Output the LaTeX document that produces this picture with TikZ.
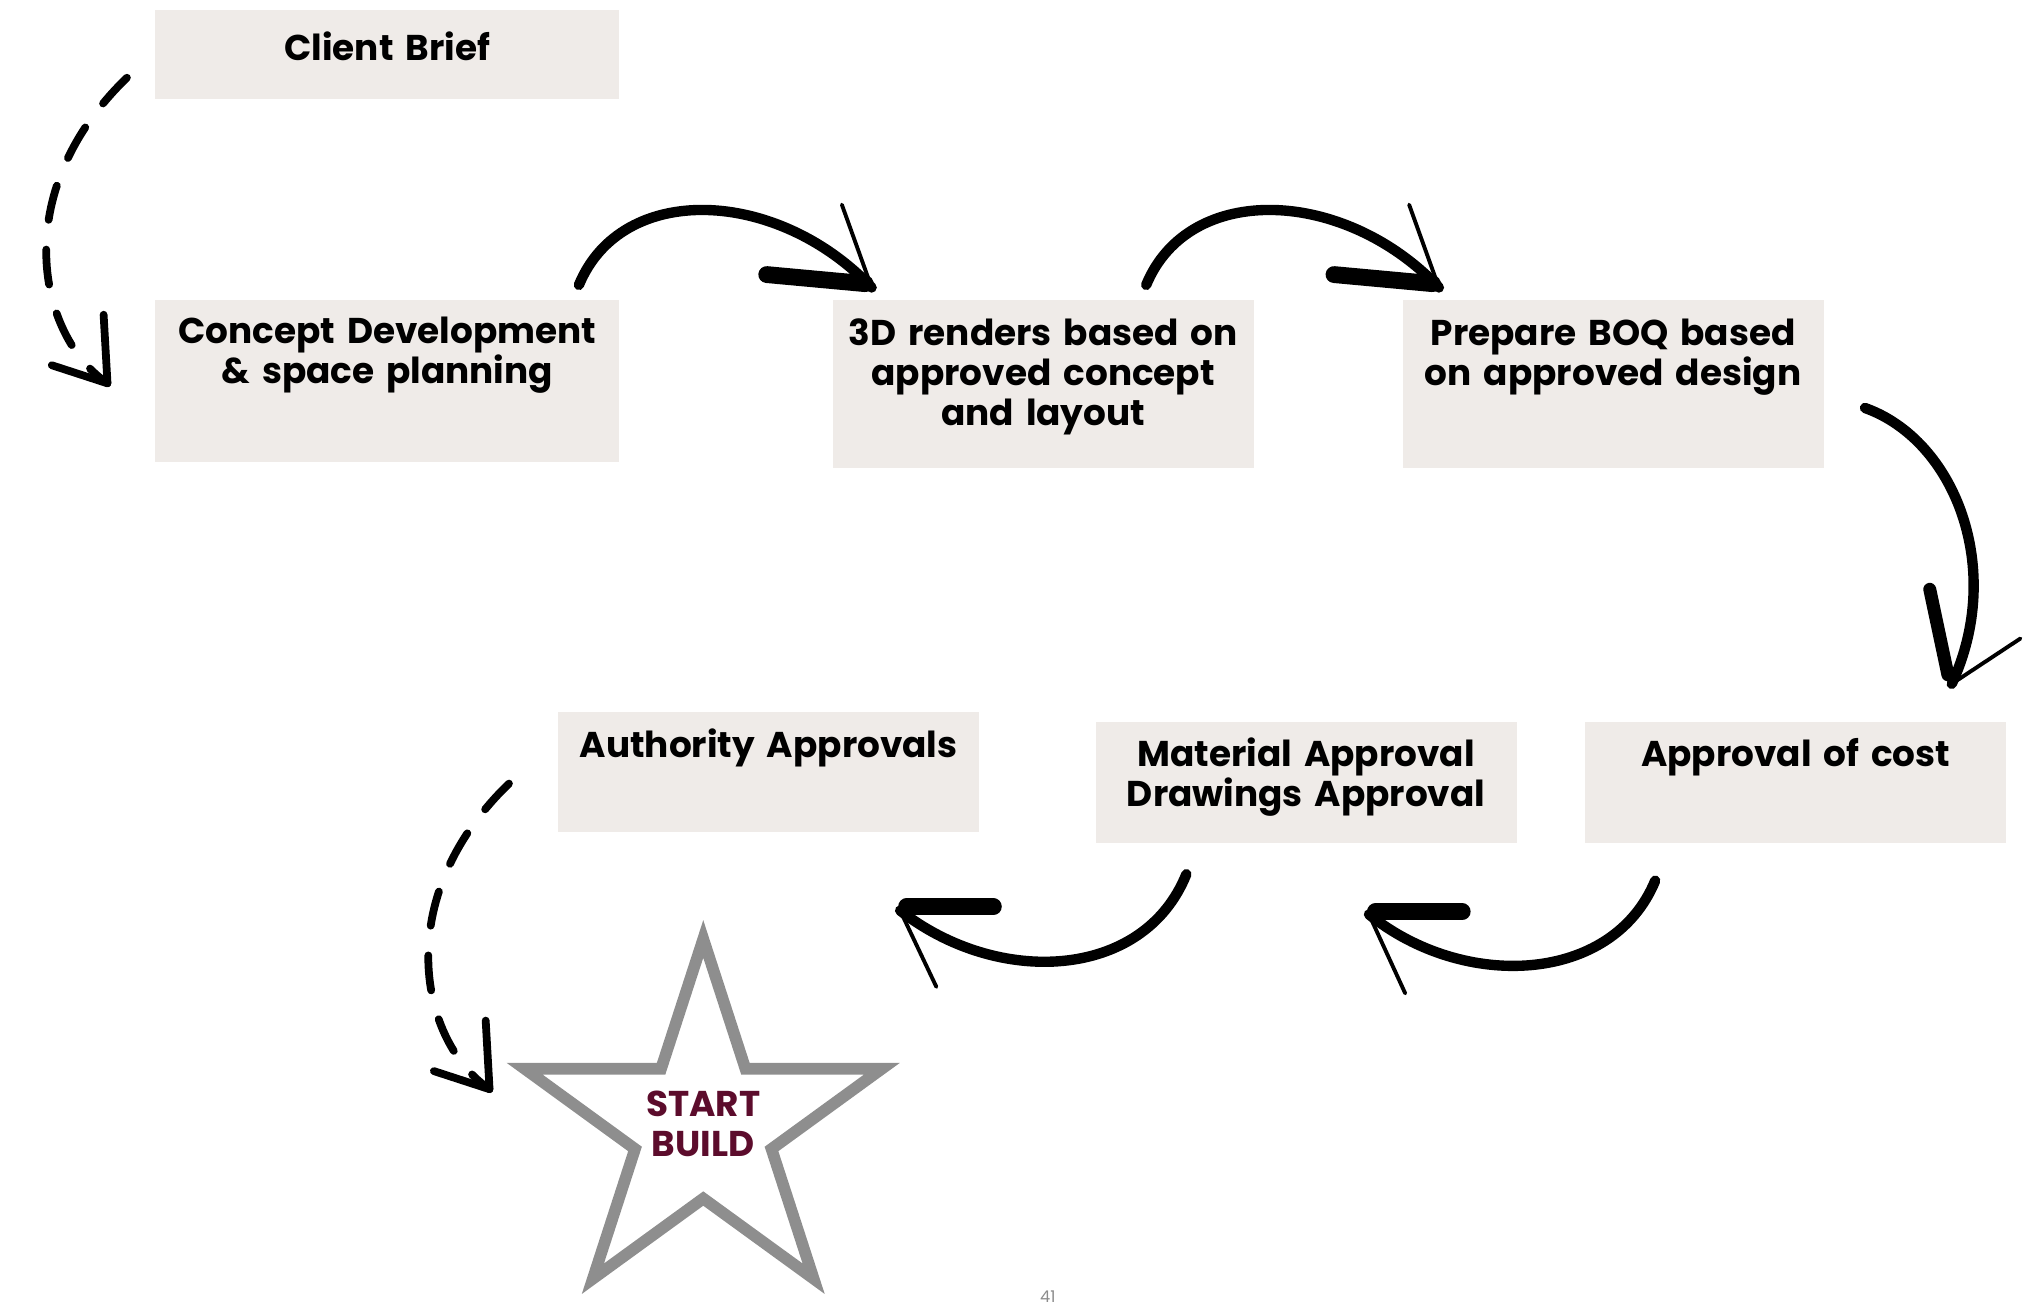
\documentclass[tikz,border=0pt]{standalone}
\usepackage{fontspec}
\setmainfont{Poppins}
\usetikzlibrary{calc}

\definecolor{boxfill}{RGB}{239,235,232}
\definecolor{stargray}{RGB}{142,142,142}
\definecolor{buildred}{RGB}{92,12,44}

% one pixel of the slide
\newdimen\ux
\ux=0.01295cm

\tikzset{
  stage/.style={fill=boxfill, inner sep=0pt, anchor=north, align=center,
    font=\bfseries\fontsize{10.2}{11.4}\selectfont},
  brush/.style={line width=8\ux, line cap=round},
  brushbar/.style={line width=13\ux, line cap=round},
  brushbarb/.style={line width=3\ux, line cap=round},
  dashbrush/.style={line width=6\ux, line cap=round, dash pattern=on 10pt off 8.5pt},
  dashhead/.style={line width=6\ux, line cap=round, line join=round},
  starline/.style={draw=stargray, line width=9\ux, line join=miter},
  buildtext/.style={align=center, text=buildred, font=\bfseries\fontsize{10.2}{11.4}\selectfont},
}

\begin{document}
\begin{tikzpicture}[x=0.01295cm, y=-0.01295cm]
  \useasboundingbox (0,0) rectangle (1562,1006);

  % Stage boxes, placed by the middle of their top edge
  \node[stage, text width=358\ux, text height=39\ux, text depth=30\ux] (brief) at (299,7) {Client Brief};
  \node[stage, text width=358\ux, text height=34\ux, text depth=91\ux] (concept) at (299,231) {Concept Development\\\& space planning};
  \node[stage, text width=325\ux, text height=35\ux, text depth=95\ux] (renders) at (805.5,231) {3D renders based on\\approved concept\\and layout};
  \node[stage, text width=325\ux, text height=35\ux, text depth=95\ux] (boq) at (1245.5,231) {Prepare BOQ based\\on approved design};
  \node[stage, text width=325\ux, text height=34\ux, text depth=59\ux] (cost) at (1386.5,557) {Approval of cost};
  \node[stage, text width=325\ux, text height=34\ux, text depth=59\ux] (material) at (1008.5,557) {Material Approval\\Drawings Approval};
  \node[stage, text width=325\ux, text height=35\ux, text depth=58\ux] (authority) at (593.5,549) {Authority Approvals};

  % Start build star
  \begin{scope}[shift={(543,870)}]
    \draw[starline] (-90:145) foreach \a in {-90,-18,54,126} { -- ({\a+36}:55.4) -- ({\a+72}:145) } -- (234:55.4) -- cycle;
  \end{scope}
  \node[buildtext] (build) at (543,868) {START\\BUILD};

  % Page number
  \node[font=\fontsize{4.6}{5}\selectfont, text=black!45] (page) at (809,1001) {41};

  % Brief to concept (dashed)
  \coordinate (briefout) at (98,60);
  \coordinate (conceptin) at (83,296);
  \draw[dashbrush] (briefout) .. controls (5,150) and (30,260) .. (conceptin);
  \draw[dashhead] (conceptin) ++(-3,-53) -- (conceptin) -- ++(-43,-14);

  % Concept to renders
  \coordinate (conceptout) at (447,220);
  \coordinate (rendersin) at (673,222);
  \draw[brush] (conceptout) .. controls (480,140) and (600,145) .. (rendersin);
  \draw[brushbar] (rendersin) ++(-81,-10) -- ++(76,7);
  \draw[brushbarb] (rendersin) ++(-23,-64) -- (rendersin);

  % Renders to BOQ
  \coordinate (rendersout) at (885,220);
  \coordinate (boqin) at (1111,222);
  \draw[brush] (rendersout) .. controls (918,140) and (1038,145) .. (boqin);
  \draw[brushbar] (boqin) ++(-81,-10) -- ++(76,7);
  \draw[brushbarb] (boqin) ++(-23,-64) -- (boqin);

  % BOQ to cost
  \coordinate (boqout) at (1440,315);
  \coordinate (costin) at (1507,528);
  \draw[brush] (boqout) .. controls (1510,340) and (1548,440) .. (costin);
  \draw[brushbar, line width=10\ux] (costin) ++(-17,-73) -- ++(14,66);
  \draw[brushbarb] (costin) ++(53,-35) -- (costin);

  % Cost to material
  \coordinate (costout) at (1278,680);
  \coordinate (materialin) at (1057,706);
  \draw[brush] (costout) .. controls (1245,760) and (1130,765) .. (materialin);
  \draw[brushbar] (materialin) ++(72,-2) -- ++(-67,0);
  \draw[brushbarb] (materialin) ++(28,61) -- (materialin);

  % Material to authority
  \coordinate (materialout) at (916,675);
  \coordinate (authorityin) at (695,703);
  \draw[brush] (materialout) .. controls (883,757) and (770,762) .. (authorityin);
  \draw[brushbar] (authorityin) ++(72,-3) -- ++(-67,0);
  \draw[brushbarb] (authorityin) ++(28,59) -- (authorityin);

  % Authority to build (dashed)
  \coordinate (authorityout) at (393,605);
  \coordinate (buildin) at (378,841);
  \draw[dashbrush] (authorityout) .. controls (300,695) and (325,805) .. (buildin);
  \draw[dashhead] (buildin) ++(-3,-53) -- (buildin) -- ++(-43,-14);

\end{tikzpicture}
\end{document}
